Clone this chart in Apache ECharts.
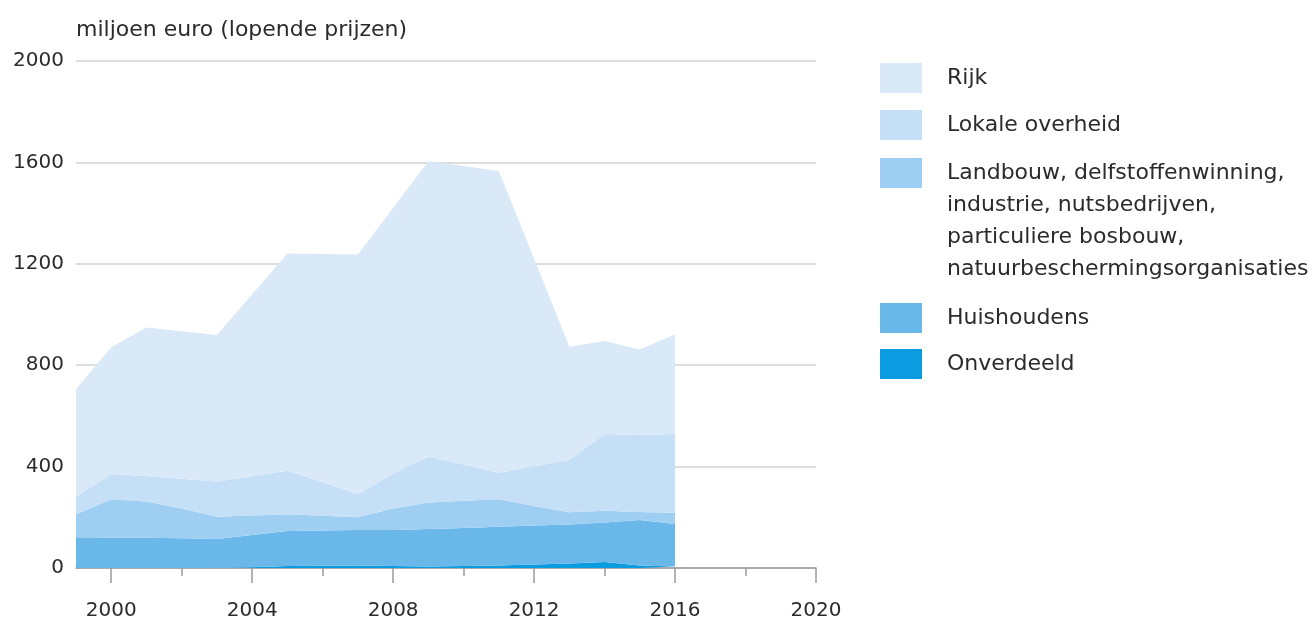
<!DOCTYPE html>
<html>
<head>
<meta charset="utf-8">
<script src="https://cdn.jsdelivr.net/npm/echarts@6/dist/echarts.min.js"></script>
<style>
  html, body { margin: 0; padding: 0; background: #fff; }
  #chart { width: 1309px; height: 622px; }
</style>
</head>
<body>
<div id="chart"></div>
<script>
// jaren en waarden (miljoen euro)
const years = ['1999', '2000', '2001', '2002', '2003', '2004', '2005', '2006', '2007', '2008',
  '2009', '2010', '2011', '2012', '2013', '2014', '2015', '2016',
  '2017', '2018', '2019', '2020']
const onverdeeld = [0, 0, 0, 0, 0, 3, 8, 9, 10, 8, 6, 8, 10, 14, 18, 24, 10, 6]
const huishoudens = [121, 120, 119, 117, 114, 127, 138, 139, 140, 142, 148, 150, 153, 154, 154, 155, 179, 168]
const landbouw = [91, 151, 143, 118, 88, 77, 66, 58, 50, 85, 104, 107, 108, 77, 48, 47, 32, 44]
const lokale = [69, 100, 101, 117, 139, 155, 172, 132, 91, 138, 181, 143, 105, 156, 206, 303, 304, 311]
const rijk = [424, 500, 586, 582, 578, 718, 857, 901, 946, 1048, 1166, 1178, 1190, 819, 447, 366, 337, 393]

const yTicks = [0, 400, 800, 1200, 1600, 2000]
const xLabels = ['2000', '2004', '2008', '2012', '2016', '2020']
const xMinorTicks = ['2002', '2006', '2010', '2014', '2018']

const names = {
  rijk: 'Rijk',
  lokale: 'Lokale overheid',
  landbouw: 'Landbouw, delfstoffenwinning,\nindustrie, nutsbedrijven,\nparticuliere bosbouw,\nnatuurbeschermingsorganisaties',
  huishoudens: 'Huishoudens',
  onverdeeld: 'Onverdeeld'
}
const colors = {
  rijk: '#d9e9f8',
  lokale: '#c5e0f6',
  landbouw: '#9ecef2',
  huishoudens: '#6ab7ea',
  onverdeeld: '#0b9be0'
}

const font = 'DejaVu Sans'
const textColor = '#2b2b2b'
const axisGray = '#9a9a9a'

const makeSeries = (key, values) => ({
  name: names[key],
  type: 'line',
  stack: 'totaal',
  symbol: 'none',
  lineStyle: { width: 0 },
  areaStyle: { color: colors[key], opacity: 1 },
  itemStyle: { color: colors[key] },
  data: values
})

const makeLegend = (key, top, extra) => Object.assign({
  data: [names[key]],
  orient: 'vertical',
  left: 880,
  top: top,
  padding: 0,
  icon: 'rect',
  itemWidth: 42,
  itemHeight: 30,
  itemGap: 0,
  selectedMode: false,
  textStyle: {
    fontFamily: font,
    fontSize: 22,
    lineHeight: 32,
    color: textColor,
    padding: [0, 0, 0, 20]
  }
}, extra || {})

const chart = echarts.init(document.getElementById('chart'))

const option = {
  animation: false,
  title: {
    text: 'miljoen euro (lopende prijzen)',
    left: 76,
    top: 19,
    padding: 0,
    textStyle: { fontFamily: font, fontSize: 22, fontWeight: 'normal', color: textColor }
  },
  legend: [
    makeLegend('rijk', 62),
    makeLegend('lokale', 109),
    // vier regels: lege regels ervoor zodat de eerste regel naast het vlakje staat
    makeLegend('landbouw', 61, { formatter: name => '\n\n\n' + name }),
    makeLegend('huishoudens', 302),
    makeLegend('onverdeeld', 348)
  ],
  grid: { left: 76, right: 493, top: 61, bottom: 54 },
  xAxis: [
    {
      type: 'category',
      data: years,
      boundaryGap: false,
      axisLine: { show: true, lineStyle: { color: axisGray, width: 1.5 } },
      axisTick: {
        show: true,
        interval: (i, v) => xLabels.includes(v),
        length: 15,
        lineStyle: { color: axisGray, width: 1.5 }
      },
      axisLabel: {
        interval: (i, v) => xLabels.includes(v),
        margin: 33,
        fontFamily: font,
        fontSize: 20,
        color: textColor
      },
      splitLine: { show: false }
    },
    {
      type: 'category',
      data: years,
      boundaryGap: false,
      position: 'bottom',
      axisLine: { show: false },
      axisTick: {
        show: true,
        interval: (i, v) => xMinorTicks.includes(v),
        length: 8,
        lineStyle: { color: axisGray, width: 1.5 }
      },
      axisLabel: { show: false },
      splitLine: { show: false }
    }
  ],
  yAxis: {
    type: 'value',
    min: yTicks[0],
    max: yTicks[yTicks.length - 1],
    interval: 400,
    axisLine: { show: false },
    axisTick: { show: false },
    axisLabel: { margin: 12, fontFamily: font, fontSize: 20, color: textColor, formatter: v => String(v) },
    splitLine: { lineStyle: { color: '#dedede', width: 2 } }
  },
  series: [
    makeSeries('onverdeeld', onverdeeld),
    makeSeries('huishoudens', huishoudens),
    makeSeries('landbouw', landbouw),
    makeSeries('lokale', lokale),
    makeSeries('rijk', rijk)
  ]
}

chart.setOption(option)
</script>
</body>
</html>
